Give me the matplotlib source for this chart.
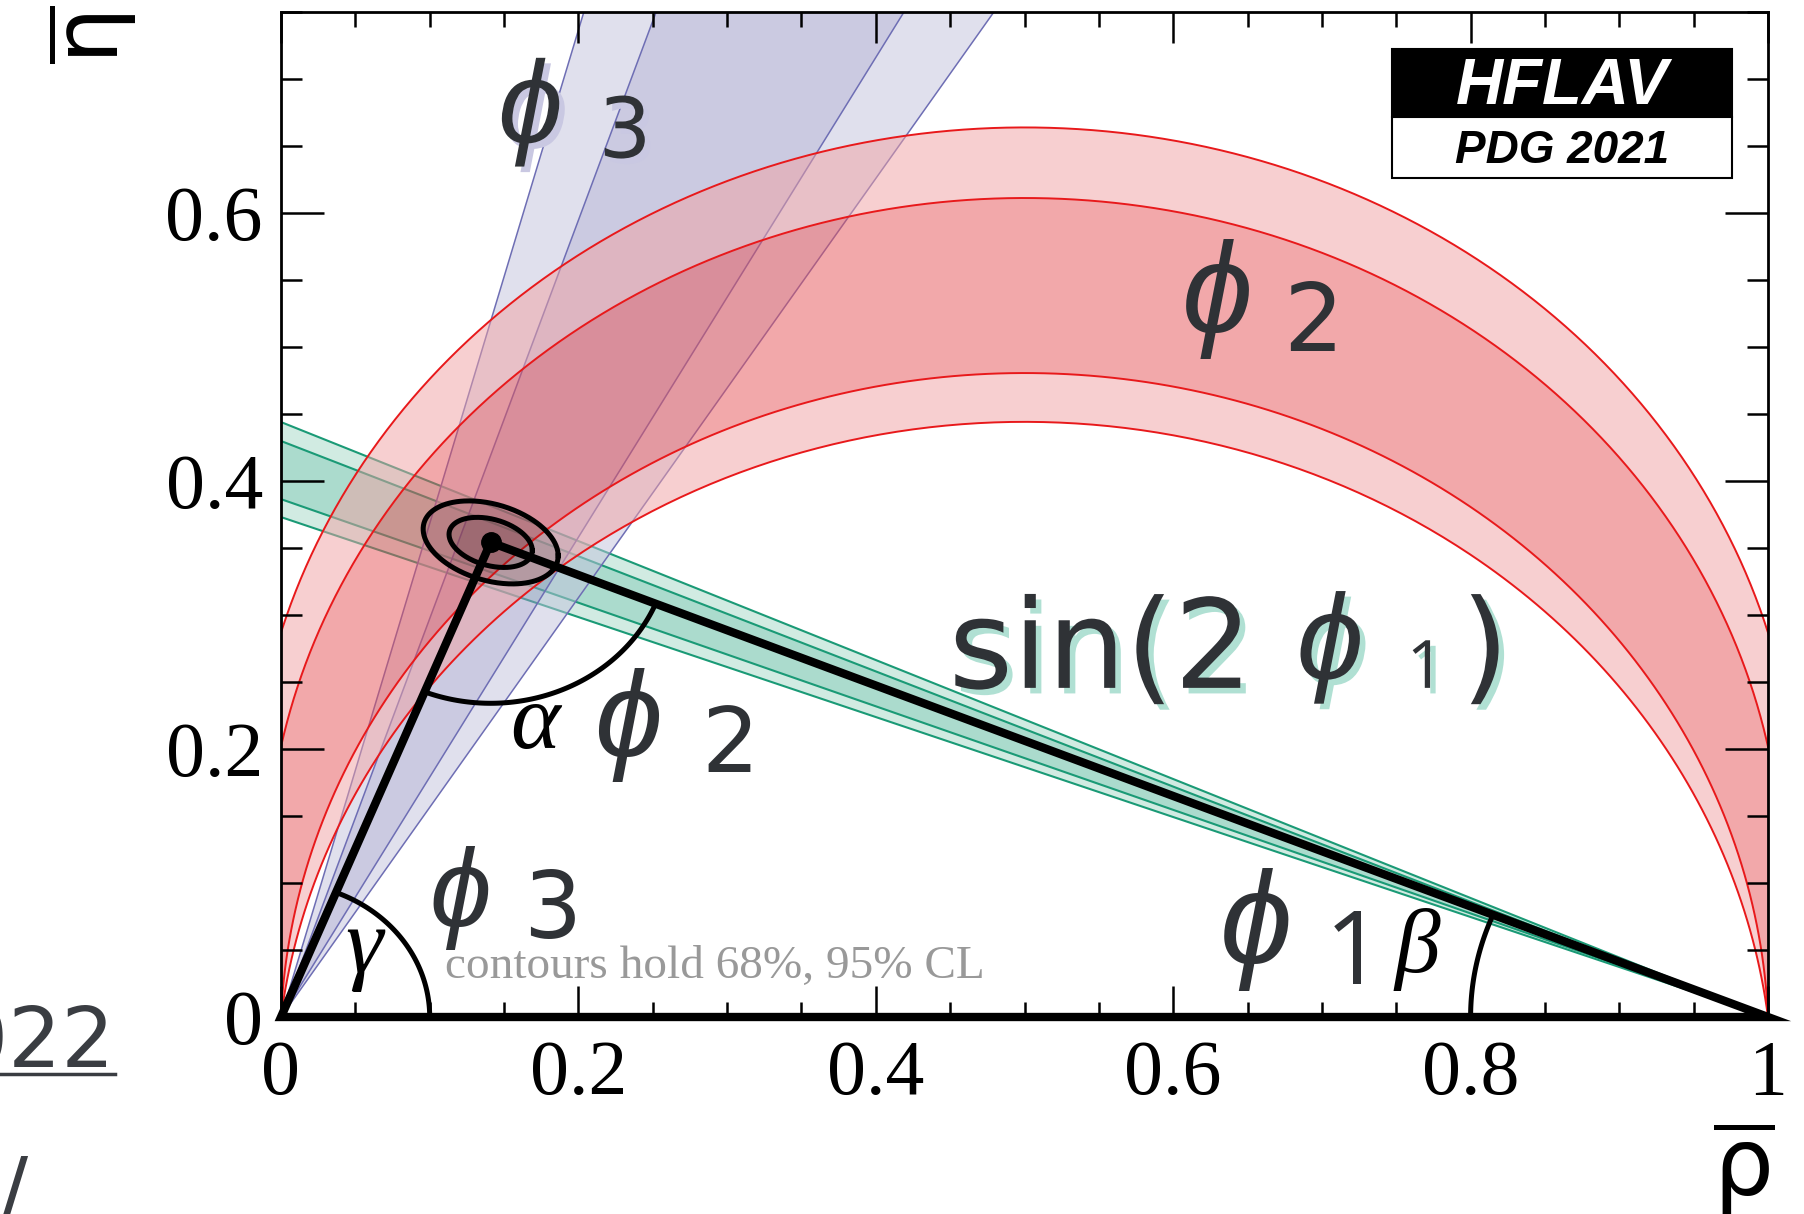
import numpy as np
import matplotlib.pyplot as plt
from matplotlib import patheffects as pe
from matplotlib.patches import Polygon, Rectangle
from matplotlib.ticker import MultipleLocator

# apex of the unitarity triangle (rhobar, etabar)
apex = [0.141, 0.354]

# band edges in degrees: 95% low, 68% low, 68% high, 95% high
beta_edges = [20.45, 21.12, 23.25, 23.93]    # sin(2phi1)
gamma_edges = [57.4, 60.8, 71.4, 74.8]       # phi3
alpha_edges = [74.0, 78.6, 92.3, 96.8]       # phi2

# global fit contours (68%, 95%): half width in rho, half height in eta, tilt
ell_rho = [0.028, 0.0454]
ell_eta = [0.0177, 0.0293]
ell_tilt = [-0.006, -0.010]

xticks = [0, 0.2, 0.4, 0.6, 0.8, 1]
xticklabels = ['0', '0.2', '0.4', '0.6', '0.8', '1']
yticks = [0, 0.2, 0.4, 0.6]
yticklabels = ['0', '0.2', '0.4', '0.6']

W, H = 1804, 1214
fig = plt.figure(figsize=(W / 100, H / 100), dpi=100)
ax = fig.add_axes([281 / W, 197 / H, 1487 / W, 1005.5 / H])
ax.set_xlim(0, 1)
ax.set_ylim(0, 0.75)


def fill_strips(strips, light, dark):
    for p, c in zip(strips, [light, dark, light]):
        ax.add_patch(Polygon(p, closed=True, fc=c, ec='none', alpha=0.5, zorder=1))


def strips_from(edges, curve):
    out = []
    for i in range(3):
        c1, c2 = curve(edges[i]), curve(edges[i + 1])
        out.append(np.vstack([c1, c2[::-1]]))
    return out


# sin(2phi1): rays from (1, 0)
def beta_ray(b):
    t = np.tan(np.radians(b))
    return np.array([[1, 0], [-0.2, 1.2 * t]])


# phi3: rays from the origin
def gamma_ray(g):
    a = np.radians(g)
    return np.array([[0, 0], [2 * np.cos(a), 2 * np.sin(a)]])


# phi2: circle arcs through (0,0) and (1,0)
def alpha_arc(a):
    a = np.radians(a)
    c = 0.5 / np.tan(a)
    r = 0.5 / np.sin(a)
    t1 = np.arctan2(-c, 0.5)
    t0 = np.arctan2(-c, -0.5)
    if t0 < t1:
        t0 += 2 * np.pi
    t = np.linspace(t1, t0, 400)
    return np.column_stack([0.5 + r * np.cos(t), c + r * np.sin(t)])


fill_strips(strips_from(beta_edges, beta_ray), '#a5d9c7', '#59b99d')
for b in beta_edges:
    r = beta_ray(b)
    ax.plot(r[:, 0], r[:, 1], color='#1a9a76', lw=1.5, zorder=1)

fill_strips(strips_from(gamma_edges, gamma_ray), '#c3c3dd', '#9997c5')
for g in gamma_edges:
    r = gamma_ray(g)
    ax.plot(r[:, 0], r[:, 1], color='#6e6eb4', lw=1.1, zorder=1)

fill_strips(strips_from(alpha_edges, alpha_arc), '#f1a1a3', '#e75357')
for a in alpha_edges:
    arc = alpha_arc(a)
    ax.plot(arc[:, 0], arc[:, 1], color='#e8191b', lw=1.4, zorder=1)

# fit contours
t = np.linspace(0, 2 * np.pi, 300)
for A, B, C in zip(ell_rho, ell_eta, ell_tilt):
    ex = apex[0] + A * np.cos(t)
    ey = apex[1] + B * np.sin(t) + C * np.cos(t)
    ax.fill(ex, ey, color='black', alpha=0.1, lw=0, zorder=3)
    ax.plot(ex, ey, color='black', lw=3.6, zorder=4)

# triangle
tri = Polygon([[0, 0], [1, 0], apex], closed=True, fill=False, ec='black',
              lw=6, joinstyle='miter', clip_on=False, zorder=5)
ax.add_patch(tri)
ax.plot(apex[0], apex[1], 'o', color='black', ms=14, zorder=6)

# angle arcs
gam = np.arctan2(apex[1], apex[0])
tt = np.linspace(0, gam, 100)
ax.plot(0.1 * np.cos(tt), 0.1 * np.sin(tt), color='black', lw=3.6, zorder=5)
a0 = np.arctan2(-apex[1], -apex[0])
a1 = np.arctan2(-apex[1], 1 - apex[0])
tt = np.linspace(a0, a1, 100)
ax.plot(apex[0] + 0.12 * np.cos(tt), apex[1] + 0.12 * np.sin(tt), color='black', lw=3.6, zorder=5)
bet = np.arctan2(apex[1], 1 - apex[0])
tt = np.linspace(np.pi - bet, np.pi, 100)
ax.plot(1 + 0.2 * np.cos(tt), 0.2 * np.sin(tt), color='black', lw=3.6, zorder=5)

# axes styling
ax.set_xticks(xticks, xticklabels)
ax.set_yticks(yticks, yticklabels)
ax.xaxis.set_minor_locator(MultipleLocator(0.05))
ax.yaxis.set_minor_locator(MultipleLocator(0.05))
ax.tick_params(axis='x', which='major', direction='in', length=22, width=1.8, top=True, pad=16)
ax.tick_params(axis='x', which='minor', direction='in', length=11, width=1.8, top=True)
ax.tick_params(axis='y', which='major', direction='in', length=31, width=1.8, right=True, pad=13)
ax.tick_params(axis='y', which='minor', direction='in', length=15, width=1.8, right=True)
for lab in ax.get_xticklabels() + ax.get_yticklabels():
    lab.set_fontfamily('Liberation Serif')
    lab.set_fontsize(56)
for s in ax.spines.values():
    s.set_linewidth(2)
    s.set_zorder(7)

# labels inside the plot
dark = '#2f3236'
big = ['DejaVu Sans']
one = ['Open Sans', 'DejaVu Sans']
phifam = ['Liberation Sans', 'DejaVu Sans']
shadow_b = [pe.withSimplePatchShadow(offset=(4, -4), shadow_rgbFace='#c9c8e2', alpha=1.0)]
shadow_g = [pe.withSimplePatchShadow(offset=(4, -4), shadow_rgbFace='#b0e0d3', alpha=1.0)]
phi = '\u03d5'


def label(x, y, s, size, fam=big, **kw):
    ax.text(x, y, s, fontsize=size, family=fam, color=dark, zorder=8, **kw)


def phi_label(x, y, size, **kw):
    ax.text(x, y, phi, fontsize=size, family=phifam, style='italic', color=dark,
            zorder=8, **kw)


phi_label(0.146, 0.6524, 84, path_effects=shadow_b)
label(0.2135, 0.6412, '3', 60, path_effects=shadow_b)

phi_label(0.606, 0.5107, 92)
label(0.674, 0.497, '2', 68)

label(0.449, 0.2455, 'sin(2', 89, path_effects=shadow_g)
phi_label(0.683, 0.2524, 87, path_effects=shadow_g)
label(0.757, 0.2455, '1', 48, fam=one, path_effects=shadow_g)
label(0.7935, 0.2455, ')', 89, path_effects=shadow_g)

phi_label(0.2104, 0.194, 88)
label(0.283, 0.1828, '2', 65)

phi_label(0.0998, 0.067, 80)
label(0.163, 0.0592, '3', 66)

phi_label(0.631, 0.0395, 94)
label(0.702, 0.0249, '1', 74, fam=one)

serif = 'Liberation Serif'
ax.text(0.154, 0.2009, '\u03b1', fontsize=68, family=serif, style='italic', zorder=8)
ax.text(0.043, 0.0335, '\u03b3', fontsize=68, family=serif, style='italic', zorder=8)
ax.text(0.749, 0.0335, '\u03b2', fontsize=66, family=serif, style='italic', zorder=8)

ax.text(0.1106, 0.0292, 'contours hold 68%, 95% CL', fontsize=34, family=serif,
        color='#999999', zorder=8)

# HFLAV logo
ax.add_patch(Rectangle((0.747, 0.895), 0.229, 0.068, transform=ax.transAxes,
                       fc='black', ec='black', lw=1.5, zorder=9))
ax.add_patch(Rectangle((0.747, 0.834), 0.229, 0.061, transform=ax.transAxes,
                       fc='white', ec='black', lw=1.5, zorder=9))
ax.text(0.8615, 0.925, 'HFLAV', transform=ax.transAxes, ha='center', va='center',
        fontsize=47, family='Liberation Sans', weight='bold', style='italic',
        color='white', zorder=10)
ax.text(0.8615, 0.861, 'PDG 2021', transform=ax.transAxes, ha='center', va='center',
        fontsize=33, family='Liberation Sans', weight='bold', style='italic',
        color='black', zorder=10)

# axis titles
fig.text(1744 / W, -4 / H, r'$\overline{\mathrm{\rho}}$', fontsize=68, ha='center', va='bottom')
fig.text(92 / W, 1 - 6 / H, r'$\overline{\mathrm{\eta}}$', fontsize=64, rotation=90,
         ha='center', va='top')

# slide text around the chart
fig.text(115 / W, 1 - 1067 / H, '2022', fontsize=60, family='DejaVu Sans', color='#3a3d42',
         ha='right', va='baseline')
fig.add_artist(plt.Line2D([0, 115 / W], [1 - 1074 / H, 1 - 1074 / H], color='#3a3d42', lw=2.5))
fig.text(0, -20 / H, '/', fontsize=60, family='DejaVu Sans', color='#3a3d42', ha='left', va='bottom')

fig.savefig('out.png', dpi=100)
